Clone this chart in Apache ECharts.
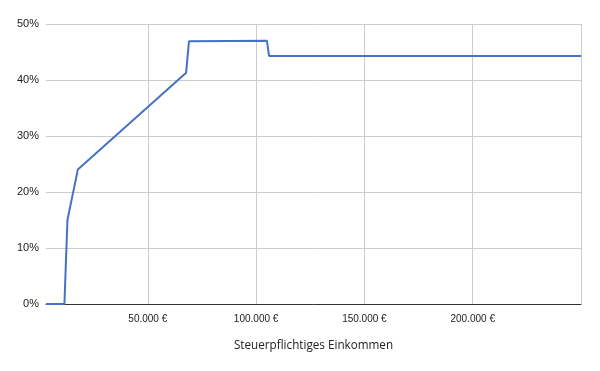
<!DOCTYPE html>
<html>
<head>
<meta charset="utf-8">
<script src="https://cdn.jsdelivr.net/npm/echarts@6/dist/echarts.min.js"></script>
<style>html,body{margin:0;padding:0;background:#fff}#c{width:600px;height:371px}</style>
</head>
<body>
<div id="c"></div>
<script>
// Income (EUR) and marginal tax rate (%)
const income = [3000, 11500, 12900, 17700, 67700, 69000, 69600, 105000, 106000, 250000];
const rate   = [0,    0,     15,    24,    41.3,  46.9,  47.0,  47.0,   44.3,   44.3];
const yTicks = [0, 10, 20, 30, 40, 50];
const xTitle = 'Steuerpflichtiges Einkommen';

function fmtEuro(v) {
  return String(Math.round(v)).replace(/\B(?=(\d{3})+(?!\d))/g, '.') + ' €';
}

const chart = echarts.init(document.getElementById('c'), null, {renderer: 'canvas'});
chart.setOption({
  animation: false,
  backgroundColor: '#ffffff',
  grid: {left: 46, right: 19, top: 24, bottom: 67, containLabel: false},
  xAxis: {
    type: 'value',
    min: income[0],
    max: income[income.length - 1],
    splitNumber: 5,
    name: xTitle,
    nameLocation: 'middle',
    nameGap: 36,
    nameTextStyle: {fontFamily: 'Open Sans', fontSize: 11.7, color: '#222'},
    axisLine: {show: true, onZero: false, lineStyle: {color: '#333', width: 1}},
    axisTick: {show: false},
    axisLabel: {
      showMinLabel: false, showMaxLabel: false,
      formatter: fmtEuro, fontFamily: 'Liberation Sans', fontSize: 10, color: '#222', margin: 10
    },
    splitLine: {show: true, showMinLine: false, showMaxLine: true, lineStyle: {color: '#cccccc', width: 1}}
  },
  yAxis: {
    type: 'value',
    min: yTicks[0],
    max: yTicks[yTicks.length - 1],
    interval: yTicks[1] - yTicks[0],
    axisLine: {show: false},
    axisTick: {show: false},
    axisLabel: {formatter: '{value}%', fontFamily: 'Liberation Sans', fontSize: 11, color: '#222', margin: 7},
    splitLine: {show: true, lineStyle: {color: '#cccccc', width: 1}}
  },
  series: [{
    type: 'line',
    data: income.map((x, i) => [x, rate[i]]),
    showSymbol: false,
    lineStyle: {color: '#4472c4', width: 2},
    itemStyle: {color: '#4472c4'}
  }]
});
</script>
</body>
</html>
